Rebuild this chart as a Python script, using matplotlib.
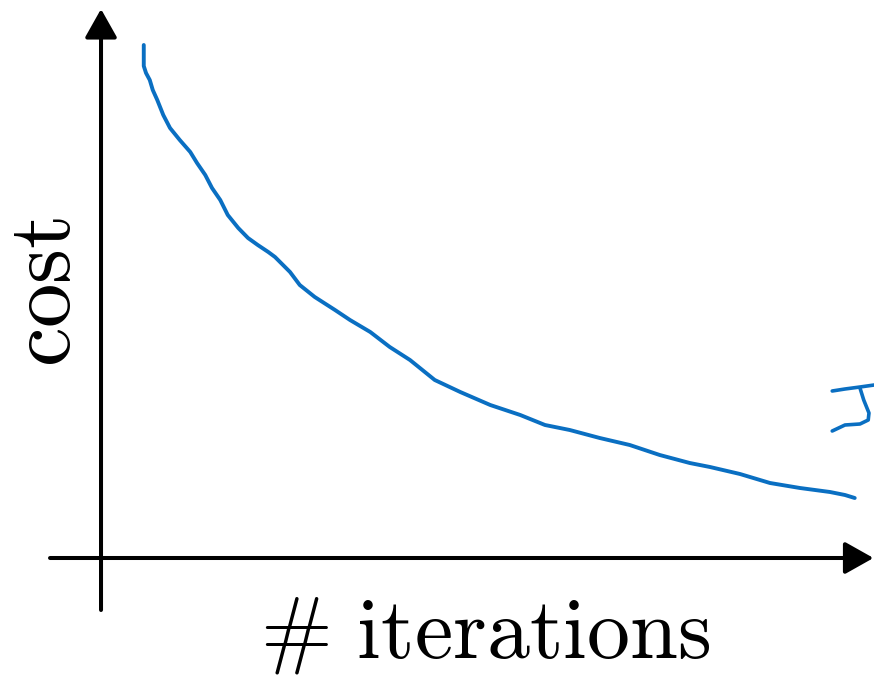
import matplotlib
matplotlib.use("Agg")
import matplotlib.pyplot as plt
import numpy as np

plt.rcParams['mathtext.fontset'] = 'cm'

# curve: iterations vs cost
iters = [5.7, 5.7, 6.0, 6.5, 6.9, 7.5, 8.3, 9.2, 10.5, 11.9, 12.8, 13.9, 14.8,
         15.9, 16.9, 18.3, 19.6, 20.9, 22.3, 23.2, 25.2, 26.5, 28.5, 31.2, 33.2,
         35.9, 38.5, 41.2, 44.5, 47.9, 51.9, 55.9, 59.2, 62.5, 66.5, 70.5, 74.5,
         78.5, 81.2, 85.2, 89.2, 93.2, 97.2, 99.2, 100.5]
cost = [102.6, 98.4, 97.0, 95.6, 93.6, 91.6, 88.6, 86.0, 83.6, 81.2, 79.0, 76.6,
        74.0, 71.6, 68.6, 66.0, 64.0, 62.6, 61.2, 60.2, 57.2, 54.6, 52.2, 49.6,
        47.6, 45.2, 42.2, 39.6, 35.6, 33.2, 30.6, 28.6, 26.6, 25.6, 24.0, 22.6,
        20.6, 19.0, 18.2, 16.8, 15.0, 14.0, 13.2, 12.6, 12.0]

# small pen scribble at the right edge
scr_top_x = [97.5, 99.2, 101.2, 103.1]
scr_top_y = [33.4, 33.8, 34.2, 34.6]
scr_x = [101.2, 101.7, 102.4, 102.3, 101.2, 99.2, 97.5]
scr_y = [34.0, 31.6, 29.0, 27.6, 26.8, 26.6, 25.4]

blue = '#0a6fc2'

fig = plt.figure(figsize=(8.74, 6.76), dpi=100)
ax = fig.add_axes([0, 0, 1, 1])
ax.set_xlim(-13.47, 103.07)
ax.set_ylim(-23.6, 111.6)
ax.axis('off')

arrow = dict(arrowstyle='-|>,head_length=0.8,head_width=0.45',
             mutation_scale=22, lw=2.9, color='black', shrinkA=0, shrinkB=0)
ax.annotate('', xy=(103.0, 0), xytext=(-6.8, 0), arrowprops=arrow)
ax.annotate('', xy=(0, 109.8), xytext=(0, -10.4), arrowprops=arrow)

ax.plot(iters, cost, color=blue, lw=2.8, solid_capstyle='round',
        solid_joinstyle='round')
ax.plot(scr_top_x, scr_top_y, color=blue, lw=2.6, solid_capstyle='round')
ax.plot(scr_x, scr_y, color=blue, lw=2.6, solid_capstyle='round')

ax.text(-7.4, 53.2, r'$\mathrm{cost}$', rotation=90, fontsize=64,
        ha='center', va='center')
ax.text(51.2, -15.3, r'$\#\ \mathrm{iterations}$', fontsize=62,
        ha='center', va='center')

fig.savefig('out.png', dpi=100)
